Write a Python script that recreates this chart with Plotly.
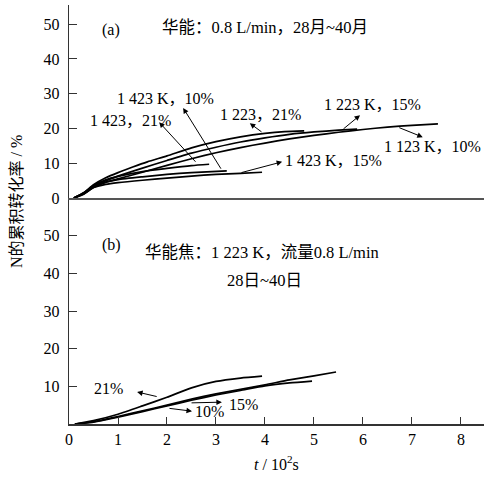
import plotly.graph_objects as go

# ---------------- data ----------------
# Panel (a): 华能 coal, 0.8 L/min
a_1223_21_t = [0.1, 0.3, 0.5, 0.75, 1.0, 1.3, 1.6, 2.0, 2.5, 3.0, 3.5, 4.0, 4.4, 4.8]
a_1223_21_v = [0, 1.5, 3.8, 5.8, 7.3, 8.9, 10.4, 12.1, 14.4, 16.2, 17.6, 18.6, 19.1, 19.3]

a_1223_15_t = [0.1, 0.3, 0.5, 0.75, 1.0, 1.5, 2.0, 2.5, 3.0, 3.5, 4.0, 4.5, 5.0, 5.5, 5.88]
a_1223_15_v = [0, 1.2, 3.3, 5.0, 6.3, 8.6, 10.8, 12.9, 14.6, 16.1, 17.3, 18.3, 19.0, 19.5, 19.8]

a_1123_10_t = [0.1, 0.3, 0.5, 0.75, 1.0, 1.5, 2.0, 2.5, 3.0, 3.5, 4.0, 4.5, 5.0, 5.5, 6.0, 6.5, 7.0, 7.53]
a_1123_10_v = [0, 1.1, 3.0, 4.5, 5.5, 7.4, 9.4, 11.3, 13.0, 14.5, 15.8, 17.0, 18.0, 18.9, 19.7, 20.4, 20.9, 21.3]

a_1423_21_t = [0.1, 0.3, 0.5, 0.75, 1.0, 1.5, 2.0, 2.5, 2.86]
a_1423_21_v = [0, 1.5, 3.6, 5.2, 6.2, 7.6, 8.5, 9.3, 9.7]

a_1423_10_t = [0.1, 0.3, 0.5, 0.75, 1.0, 1.5, 2.0, 2.5, 3.22]
a_1423_10_v = [0, 1.4, 3.4, 4.6, 5.3, 6.1, 6.8, 7.3, 7.8]

a_1423_15_t = [0.1, 0.3, 0.5, 0.75, 1.0, 1.5, 2.0, 2.5, 3.0, 3.5, 3.94]
a_1423_15_v = [0, 1.2, 3.0, 3.9, 4.4, 5.1, 5.7, 6.3, 6.8, 7.1, 7.4]

# Panel (b): 华能焦, 1 223 K, 0.8 L/min
b_21_t = [0.12, 0.5, 1.0, 1.5, 2.0, 2.5, 3.0, 3.5, 3.94]
b_21_v = [0, 0.9, 2.6, 4.8, 7.1, 9.6, 11.3, 12.2, 12.7]

b_15_t = [0.12, 0.5, 1.0, 1.5, 2.0, 2.5, 3.0, 3.5, 4.0, 4.5, 5.0, 5.45]
b_15_v = [0, 0.6, 2.0, 3.5, 5.0, 6.6, 8.0, 9.2, 10.4, 11.7, 12.8, 13.8]

b_10_t = [0.12, 0.5, 1.0, 1.5, 2.0, 2.5, 3.0, 3.5, 4.0, 4.5, 4.96]
b_10_v = [0, 0.5, 1.8, 3.3, 4.8, 6.3, 7.7, 8.9, 10.1, 10.9, 11.4]

x_ticks = [0, 1, 2, 3, 4, 5, 6, 7, 8]
ya_ticks = [0, 10, 20, 30, 40, 50]
yb_ticks = [10, 20, 30, 40, 50]

FONT = "'Liberation Serif', 'DejaVu Serif', serif, 'Noto Sans CJK SC'"
LINE = dict(color="black", width=1.7, shape="spline", smoothing=0.6)
FS = 16

fig = go.Figure()

for t, v in [(a_1223_21_t, a_1223_21_v), (a_1223_15_t, a_1223_15_v),
             (a_1123_10_t, a_1123_10_v), (a_1423_21_t, a_1423_21_v),
             (a_1423_10_t, a_1423_10_v), (a_1423_15_t, a_1423_15_v)]:
    fig.add_trace(go.Scatter(x=t, y=v, mode="lines", line=LINE,
                             xaxis="x2", yaxis="y2", showlegend=False, hoverinfo="skip"))

for t, v in [(b_21_t, b_21_v), (b_15_t, b_15_v), (b_10_t, b_10_v)]:
    fig.add_trace(go.Scatter(x=t, y=v, mode="lines", line=LINE,
                             xaxis="x", yaxis="y", showlegend=False, hoverinfo="skip"))

dom_split = 226 / 419
XR = [0, 8.47]
AXC = "#333333"

fig.update_layout(
    width=484, height=477,
    margin=dict(l=69, r=0, t=5, b=53),
    paper_bgcolor="white", plot_bgcolor="white",
    font=dict(family=FONT, size=FS, color="black"),
    xaxis=dict(domain=[0, 1], range=XR, anchor="y", showgrid=False, zeroline=False,
               showline=True, linecolor=AXC, linewidth=1.6,
               tickvals=x_ticks, ticks="inside", ticklen=7, tickcolor=AXC,
               tickfont=dict(family=FONT, size=FS)),
    yaxis=dict(domain=[0, dom_split], range=[0, 60], anchor="x", showgrid=False,
               zeroline=False, showline=True, linecolor=AXC, linewidth=1.4,
               tickvals=yb_ticks, ticks="inside", ticklen=8, tickcolor=AXC,
               ticklabelstandoff=5, tickfont=dict(family=FONT, size=FS)),
    xaxis2=dict(domain=[0, 1], range=XR, anchor="y2", showgrid=False, zeroline=False,
                showline=True, linecolor="#555555", linewidth=1.8,
                showticklabels=False, ticks=""),
    yaxis2=dict(domain=[dom_split, 1], range=[0, 55.5], anchor="x2", showgrid=False,
                zeroline=False, showline=True, linecolor=AXC, linewidth=1.4,
                tickvals=ya_ticks, ticks="inside", ticklen=8, tickcolor=AXC,
                ticklabelstandoff=5, tickfont=dict(family=FONT, size=FS)),
)

ann = []

def label(text, x, y, ref, size=FS, anchor="left"):
    ann.append(dict(text=text, x=x, y=y, xref="x" + ref, yref="y" + ref,
                    showarrow=False, xanchor=anchor, yanchor="middle",
                    font=dict(family=FONT, size=size, color="black")))

def arrow(hx, hy, tx, ty, ref):
    ann.append(dict(text="", x=hx, y=hy, ax=tx, ay=ty, xref="x" + ref, yref="y" + ref,
                    axref="x" + ref, ayref="y" + ref, showarrow=True,
                    arrowhead=2, arrowsize=1.1, arrowwidth=1, arrowcolor="black",
                    standoff=0, startstandoff=0))

# panel (a)
label("(a)", 0.63, 48.4, "2")
label("华能：0.8 L/min，28月~40月", 1.86, 48.9, "2", size=16.5)
label("1 423 K，10%", 0.94, 28.7, "2")
arrow(2.33, 25.9, 3.12, 8.0, "2")
label("1 423，21%", 0.39, 22.4, "2")
arrow(1.84, 21.8, 2.61, 10.0, "2")
label("1 223，21%", 3.04, 23.9, "2")
arrow(3.69, 21.5, 3.96, 18.7, "2")
label("1 223 K，15%", 5.16, 27.0, "2")
arrow(5.94, 23.8, 5.57, 19.5, "2")
label("1 123 K，10%", 6.39, 14.7, "2")
arrow(7.22, 17.5, 6.71, 20.4, "2")
label("1 423 K，15%", 4.37, 10.9, "2")
arrow(4.35, 10.4, 3.49, 7.2, "2")

# panel (b)
label("(b)", 0.63, 47.5, "")
label("华能焦：1 223 K，流量0.8 L/min", 1.51, 45.4, "", size=16.5)
label("28日~40日", 3.18, 38.2, "", size=16.5)
label("21%", 0.47, 9.3, "")
arrow(1.39, 8.5, 1.82, 7.2, "")
label("15%", 3.22, 5.3, "")
arrow(3.12, 5.8, 2.47, 5.6, "")
label("10%", 2.53, 3.2, "")
arrow(2.51, 3.4, 2.02, 4.2, "")

# axis titles
ann.append(dict(text="N的累积转化率 / %", x=-0.125, y=0.53, xref="paper", yref="paper",
                showarrow=False, textangle=-90, xanchor="center", yanchor="middle",
                font=dict(family=FONT, size=FS)))
ann.append(dict(text="<i>t</i> / 10<sup>2</sup>s", x=0.501, y=-0.093, xref="paper", yref="paper",
                showarrow=False, xanchor="center", yanchor="middle",
                font=dict(family=FONT, size=FS)))

fig.update_layout(annotations=ann)
fig.write_html("out.html")
